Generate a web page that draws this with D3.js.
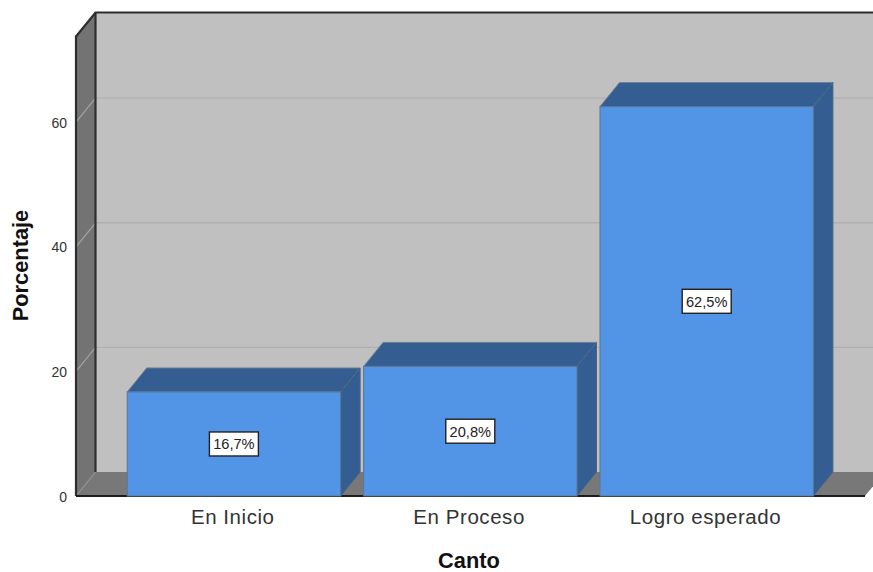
<!DOCTYPE html>
<html><head><meta charset="utf-8">
<script src="https://cdn.jsdelivr.net/npm/d3@7/dist/d3.min.js"></script>
<style>html,body{margin:0;padding:0;background:#fff}svg{display:block}text{font-family:"Liberation Sans",Arial,sans-serif}</style>
</head><body><svg id="c" width="873" height="572"></svg>
<script>
const categories = ["En Inicio","En Proceso","Logro esperado"];
const percentages = [16.7,20.8,62.5];
const percentLabels = ["16,7%","20,8%","62,5%"];
const yTicks = [0,20,40,60];
const yMax = 73.75;
const xTitle = "Canto", yTitle = "Porcentaje";

const svg = d3.select("#c");
const left=76, right=865, base=496, top3d=36.5, dx=19.5, dy=-24;
const y = d3.scaleLinear().domain([0,yMax]).range([base,top3d]);
const x = d3.scaleBand().domain(categories).range([115.7,824.9]).paddingInner(0.0972).paddingOuter(0.0486);
const pts = a => a.map(p=>p.join(",")).join(" ");
const poly = (a,fill,stroke,sw)=>svg.append("polygon").attr("points",pts(a)).attr("fill",fill)
  .attr("stroke",stroke||"none").attr("stroke-width",sw||0).attr("stroke-linejoin","round");

// back wall
poly([[left+dx,top3d+dy],[right+dx,top3d+dy],[right+dx,base+dy],[left+dx,base+dy]],"#c0c0c0");
// left wall
poly([[left,top3d],[left+dx,top3d+dy],[left+dx,base+dy],[left,base]],"#737373");
// floor
poly([[left,base],[left+dx,base+dy],[right+dx,base+dy],[right,base]],"#787878");

// gridlines
yTicks.filter(d=>d>0).forEach(t=>{
  svg.append("line").attr("x1",left+dx).attr("x2",873).attr("y1",y(t)+dy).attr("y2",y(t)+dy)
    .attr("stroke","#b0b0b0").attr("stroke-width",1.4);
});
yTicks.forEach(t=>{
  svg.append("line").attr("x1",left).attr("y1",y(t)).attr("x2",left+dx).attr("y2",y(t)+dy)
    .attr("stroke",t===0?"#8f8f8f":"#a3a3a3").attr("stroke-width",1.2);
});

// frame
const ink="#2e2e2e";
svg.append("path").attr("fill","none").attr("stroke",ink).attr("stroke-width",2.2)
  .attr("d",`M${left},${base}V${top3d}L${left+dx},${top3d+dy}H873`);
svg.append("path").attr("fill","none").attr("stroke",ink).attr("stroke-width",2.2)
  .attr("d",`M${left+dx},${top3d+dy}V${base+dy}`);
svg.append("line").attr("x1",left).attr("x2",right).attr("y1",base).attr("y2",base)
  .attr("stroke","#1c1c1c").attr("stroke-width",2);

// bars
categories.forEach((c,i)=>{
  const x0=x(c), x1=x0+x.bandwidth(), t=y(percentages[i]);
  poly([[x0,t],[x0+dx,t+dy],[x1+dx,t+dy],[x1,t]],"#345d91","#6f7f92",1);
  poly([[x1,t],[x1+dx,t+dy],[x1+dx,base+dy],[x1,base]],"#345d91","#4b6585",1);
  svg.append("rect").attr("x",x0).attr("y",t).attr("width",x.bandwidth()).attr("height",base-t)
    .attr("fill","#5294e6").attr("stroke","#5c7593").attr("stroke-width",1);
  // value label
  const cx=x0+x.bandwidth()/2, cy=(t+base)/2;
  svg.append("rect").attr("x",cx-24.5).attr("y",cy-12).attr("width",49).attr("height",24)
    .attr("fill","#fff").attr("stroke","#222").attr("stroke-width",1.4);
  svg.append("text").attr("x",cx).attr("y",cy+5.3).attr("text-anchor","middle")
    .attr("font-size",14.6).attr("fill","#222").text(percentLabels[i]);
});

// y axis tick labels
const yAxis = d3.axisLeft(y).tickValues(yTicks).tickSize(0).tickPadding(9);
const ga = svg.append("g").attr("transform",`translate(${left},0.7)`).call(yAxis);
ga.select(".domain").remove();
ga.selectAll("text").attr("font-size",14).attr("fill","#333").style("font-family",'"Liberation Sans",Arial,sans-serif');

// x axis labels
const xAxis = d3.axisBottom(x).tickSize(0).tickPadding(13);
const gx = svg.append("g").attr("transform",`translate(-1.2,${base})`).call(xAxis);
gx.select(".domain").remove();
gx.selectAll("text").attr("font-size",20.5).attr("letter-spacing",0.55).attr("fill","#333").style("font-family",'"Liberation Sans",Arial,sans-serif');

// axis titles
svg.append("text").attr("x",469).attr("y",568).attr("text-anchor","middle")
  .attr("font-size",21.8).attr("font-weight","bold").attr("fill","#111").text(xTitle);
svg.append("text").attr("transform","translate(28,265.5) rotate(-90)").attr("text-anchor","middle")
  .attr("font-size",21.8).attr("font-weight","bold").attr("fill","#111").text(yTitle);
</script></body></html>
